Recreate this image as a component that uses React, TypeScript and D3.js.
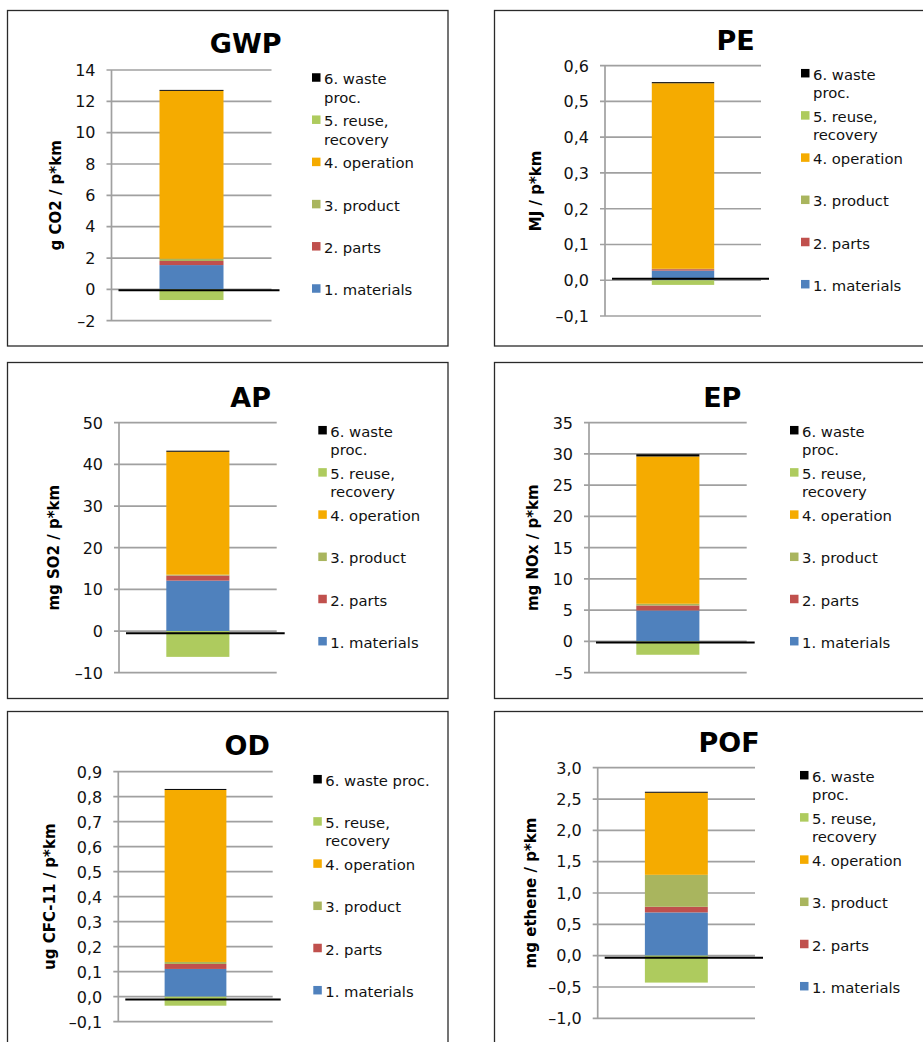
import React from 'react'
import * as d3 from 'd3'

// one stacked column per impact category
const charts = ['GWP', 'PE', 'AP', 'EP', 'OD', 'POF']
const units = ['g CO2 / p*km', 'MJ / p*km', 'mg SO2 / p*km', 'mg NOx / p*km', 'ug CFC-11 / p*km', 'mg ethene / p*km']

const seriesKeys = ['materials', 'parts', 'product', 'operation', 'reuse', 'waste']
const seriesNames = ['1. materials', '2. parts', '3. product', '4. operation', '5. reuse, recovery', '6. waste proc.']
const seriesColors = ['#4F81BD', '#C0504D', '#A9B55E', '#F5AB00', '#AECB5E', '#000000']

const materials = [1.55, 0.027, 12.1, 4.96, 0.111, 0.69]
const parts = [0.26, 0.004, 1.23, 0.8, 0.02, 0.09]
const product = [0.14, 0.001, 0.2, 0.27, 0.008, 0.51]
const operation = [10.72, 0.519, 29.5, 23.57, 0.688, 1.31]
const reuse = [-0.68, -0.013, -6.2, -2.13, -0.036, -0.43]
const waste = [0.06, 0.003, 0.25, 0.35, 0.004, 0.016]

// where the dark category axis line crosses
const axisCross = [-0.06, 0.004, -0.55, -0.16, -0.011, -0.032]

const yMin = [-2, -0.1, -10, -5, -0.1, -1]
const yMax = [14, 0.6, 50, 35, 0.9, 3]
const yStep = [2, 0.1, 10, 5, 0.1, 0.5]
const yDecimals = [0, 1, 0, 0, 1, 1]

// legend text lines (top to bottom)
const legendLines = [
  [['6. waste', 'proc.'], ['5. reuse,', 'recovery'], ['4. operation'], ['3. product'], ['2. parts'], ['1. materials']],
  [['6. waste', 'proc.'], ['5. reuse,', 'recovery'], ['4. operation'], ['3. product'], ['2. parts'], ['1. materials']],
  [['6. waste', 'proc.'], ['5. reuse,', 'recovery'], ['4. operation'], ['3. product'], ['2. parts'], ['1. materials']],
  [['6. waste', 'proc.'], ['5. reuse,', 'recovery'], ['4. operation'], ['3. product'], ['2. parts'], ['1. materials']],
  [['6. waste proc.'], ['5. reuse,', 'recovery'], ['4. operation'], ['3. product'], ['2. parts'], ['1. materials']],
  [['6. waste', 'proc.'], ['5. reuse,', 'recovery'], ['4. operation'], ['3. product'], ['2. parts'], ['1. materials']],
]

// panel layout in page pixels
const layout = [
  { fx: 7.5, fy: 10.5, fw: 440.5, fh: 335.5, axisX: 111.5, plotR: 271.5, yTop: 70, yBot: 320.7, legendX: 312, titleX: 245.7, titleY: 53, yTitleX: 60.5 },
  { fx: 494.5, fy: 10.5, fw: 440, fh: 335.5, axisX: 605, plotR: 761, yTop: 65.7, yBot: 316, legendX: 801, titleX: 735.7, titleY: 50, yTitleX: 540.5 },
  { fx: 7.5, fy: 362.5, fw: 440.5, fh: 336, axisX: 119, plotR: 276.7, yTop: 422.7, yBot: 672.7, legendX: 318.3, titleX: 250.7, titleY: 406.7, yTitleX: 58.5 },
  { fx: 494.5, fy: 362.5, fw: 440, fh: 336, axisX: 589, plotR: 746.7, yTop: 422.7, yBot: 672.7, legendX: 790, titleX: 722.3, titleY: 406.7, yTitleX: 537.5 },
  { fx: 7.5, fy: 711.5, fw: 440.5, fh: 400, axisX: 118.3, plotR: 272.7, yTop: 771.7, yBot: 1021.7, legendX: 313.3, titleX: 247.3, titleY: 755, yTitleX: 55 },
  { fx: 494.5, fy: 711.5, fw: 440, fh: 400, axisX: 597.7, plotR: 755, yTop: 767.7, yBot: 1018.3, legendX: 800, titleX: 729, titleY: 751.7, yTitleX: 536 },
]

const font = '"DejaVu Sans", Verdana, sans-serif'
const gridColor = '#A0A0A0'

function Panel({ i }: { i: number }) {
  const L = layout[i]
  const row: any = {
    name: charts[i],
    materials: materials[i], parts: parts[i], product: product[i],
    operation: operation[i], reuse: reuse[i], waste: waste[i],
  }
  const stacked = d3.stack().keys(seriesKeys).offset(d3.stackOffsetDiverging)([row])

  const y = d3.scaleLinear().domain([yMin[i], yMax[i]]).range([L.yBot, L.yTop])
  const x = d3.scaleBand().domain([charts[i]]).range([L.axisX, L.plotR]).paddingInner(0).paddingOuter(0.75)
  const ticks = d3.range(yMin[i], yMax[i] + yStep[i] / 2, yStep[i])
  const fmt = (v: number) => (yDecimals[i] ? d3.format('.1f')(v).replace('.', ',') : d3.format('d')(v)).replace('−', '–')

  const lgTop = L.yTop + 7.5
  const lgGap = 42.2

  return (
    <g>
      <rect x={L.fx} y={L.fy} width={L.fw} height={L.fh} fill="#fff" stroke="#2a2a2a" strokeWidth={1.3} />
      <text x={L.titleX} y={L.titleY} textAnchor="middle" fontFamily={font} fontWeight="bold" fontSize={27}>{charts[i]}</text>

      {ticks.map(t => (
        <g key={t}>
          <line x1={L.axisX - 5} x2={L.plotR} y1={y(t)} y2={y(t)} stroke={gridColor} strokeWidth={1.7} />
          <text x={L.axisX - 16} y={y(t) + 5.8} textAnchor="end" fontFamily={font} fontSize={16} fill="#111">{fmt(t)}</text>
        </g>
      ))}
      <line x1={L.axisX} x2={L.axisX} y1={L.yTop} y2={L.yBot} stroke={gridColor} strokeWidth={1.7} />

      {stacked.map((s, k) => (
        s.map((d, j) => (
          <rect key={seriesKeys[k] + j}
            x={x(charts[i])} width={x.bandwidth()}
            y={y(Math.max(d[0], d[1]))}
            height={Math.abs(y(d[0]) - y(d[1]))}
            fill={seriesColors[k]} />
        ))
      ))}

      <line x1={L.axisX + 7} x2={L.plotR + 8} y1={y(axisCross[i])} y2={y(axisCross[i])} stroke="#000" strokeWidth={2} />

      <text transform={`translate(${L.yTitleX},${(L.yTop + L.yBot) / 2}) rotate(-90)`} textAnchor="middle"
        fontFamily={font} fontWeight="bold" fontSize={15}>{units[i]}</text>

      {legendLines[i].map((lines, k) => {
        const s = seriesKeys.length - 1 - k
        const cy = lgTop + k * lgGap
        return (
          <g key={k}>
            <rect x={L.legendX} y={cy - 4.25} width={8.5} height={8.5} fill={seriesColors[s]} />
            {lines.map((ln, m) => (
              <text key={m} x={L.legendX + 12} y={cy + 6.5 + m * 18.5} fontFamily={font} fontSize={14.8} fill="#111">{ln}</text>
            ))}
          </g>
        )
      })}
    </g>
  )
}

export default function App() {
  return (
    <svg width={923} height={1042} style={{ position: 'absolute', left: 0, top: 0, background: '#fff' }}>
      <rect width={923} height={1042} fill="#fff" />
      {charts.map((c, i) => <Panel key={c} i={i} />)}
    </svg>
  )
}
